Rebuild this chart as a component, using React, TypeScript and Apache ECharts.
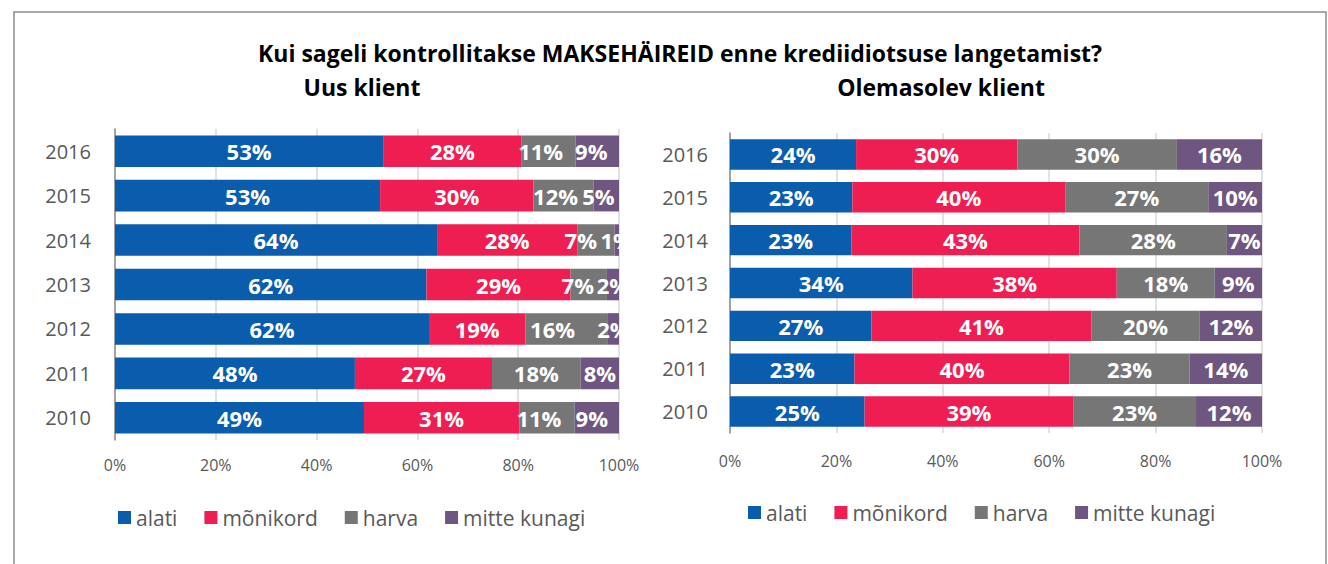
import React, { useEffect, useRef } from "react";
import * as echarts from "echarts";

const years = ["2010", "2011", "2012", "2013", "2014", "2015", "2016"];
const seriesNames = ["alati", "mõnikord", "harva", "mitte kunagi"];
const colors = ["#0A5CAD", "#EE1D52", "#767676", "#6F5680"];

// Uus klient (2010..2016)
const newAlati = [49.4, 47.6, 62.3, 61.8, 63.9, 52.6, 53.2];
const newMonikord = [30.8, 27.2, 19.1, 28.6, 27.8, 30.4, 27.5];
const newHarva = [11.0, 17.6, 16.4, 7.2, 7.4, 12.0, 10.7];
const newMitte = [8.8, 7.6, 2.2, 2.4, 0.9, 5.0, 8.6];

// Olemasolev klient (2010..2016)
const oldAlati = [25.3, 23.4, 26.6, 34.3, 22.8, 23.0, 23.7];
const oldMonikord = [39.2, 40.4, 41.3, 38.4, 42.9, 40.0, 30.3];
const oldHarva = [23.1, 22.6, 20.4, 18.4, 27.7, 26.9, 30.0];
const oldMitte = [12.4, 13.6, 11.7, 8.9, 6.6, 10.1, 16.0];

const xTicks = { min: 0, max: 100, interval: 20 };

const titleText = "Kui sageli kontrollitakse MAKSEHÄIREID enne krediidiotsuse langetamist?";
const leftSubtitle = "Uus klient";
const rightSubtitle = "Olemasolev klient";

// label horizontal nudges (px) for the narrow segments of the left chart, per year 2010..2016
const leftHarvaLabelShift = [-8, 0, -14, -11, -15, -8, -8];
const leftMitteLabelShift = [-5, 0, 0, 0, 0, -8, -6];

const FONT = "'Open Sans', 'Noto Sans', sans-serif";

export default function App() {
  const ref = useRef<HTMLDivElement>(null);
  useEffect(() => {
    if (!ref.current) return;
    const chart = echarts.init(ref.current, null, { renderer: "svg" });
    const leftData = [newAlati, newMonikord, newHarva, newMitte];
    const rightData = [oldAlati, oldMonikord, oldHarva, oldMitte];
    const leftShifts: (number[] | null)[] = [null, null, leftHarvaLabelShift, leftMitteLabelShift];
    const mkSeries = (data: number[][], idx: number, shifts: (number[] | null)[]) =>
      data.map((vals, i) => ({
        name: seriesNames[i],
        type: "bar",
        stack: "s" + idx,
        xAxisIndex: idx,
        yAxisIndex: idx,
        barWidth: "71%",
        itemStyle: { color: colors[i] },
        label: {
          show: true,
          position: "inside",
          color: "#ffffff",
          fontWeight: "bold",
          fontSize: 22,
          fontFamily: FONT,
          formatter: (p: any) => Math.round(p.value) + "%",
        },
        data: vals.map((v, j) => {
          const s = shifts[i];
          if (s && s[j]) return { value: v, label: { offset: [s[j], 0] } };
          return v;
        }),
      }));
    const xAxisBase = (gi: number, margin: number) => ({
      gridIndex: gi,
      type: "value",
      min: xTicks.min,
      max: xTicks.max,
      interval: xTicks.interval,
      axisLine: { show: false },
      axisTick: { show: false },
      splitLine: { show: true, lineStyle: { color: "#D9D9D9", width: 1.5 } },
      axisLabel: {
        formatter: "{value}%",
        color: "#595959",
        fontSize: 16,
        fontFamily: FONT,
        margin,
      },
    });
    const yAxisBase = (gi: number, margin: number) => ({
      gridIndex: gi,
      type: "category",
      data: years,
      axisLine: { show: true, lineStyle: { color: "#8C8C8C", width: 1.5 } },
      axisTick: { show: false },
      axisLabel: { color: "#595959", fontSize: 20, fontFamily: FONT, margin },
    });
    const legendBase = (left: number, top: number) => ({
      left,
      top,
      padding: 0,
      data: seriesNames,
      icon: "rect",
      itemWidth: 13,
      itemHeight: 13,
      itemGap: 27,
      textStyle: { color: "#595959", fontSize: 21, fontFamily: FONT },
    });
    chart.setOption({
      animation: false,
      backgroundColor: "#ffffff",
      grid: [
        { left: 115, width: 504, top: 129, height: 311 },
        { left: 730, width: 532, top: 133, height: 300 },
      ],
      xAxis: [xAxisBase(0, 17), xAxisBase(1, 20)],
      yAxis: [yAxisBase(0, 24), yAxisBase(1, 22)],
      legend: [legendBase(118, 507), legendBase(748, 502)],
      series: [...mkSeries(leftData, 0, leftShifts), ...mkSeries(rightData, 1, [null, null, null, null])],
      graphic: [
        {
          type: "rect",
          shape: { x: 14, y: 12, width: 1312, height: 600 },
          style: { fill: "none", stroke: "#8C8C8C", lineWidth: 1.5 },
          silent: true,
        },
        {
          type: "text",
          x: 680,
          y: 53,
          style: {
            text: titleText,
            fontSize: 23,
            fontWeight: "bold",
            fontFamily: FONT,
            fill: "#000000",
            align: "center",
            verticalAlign: "middle",
          },
        },
        {
          type: "text",
          x: 362,
          y: 87,
          style: {
            text: leftSubtitle,
            fontSize: 23,
            fontWeight: "bold",
            fontFamily: FONT,
            fill: "#000000",
            align: "center",
            verticalAlign: "middle",
          },
        },
        {
          type: "text",
          x: 941,
          y: 87,
          style: {
            text: rightSubtitle,
            fontSize: 23,
            fontWeight: "bold",
            fontFamily: FONT,
            fill: "#000000",
            align: "center",
            verticalAlign: "middle",
          },
        },
      ],
    });
    return () => chart.dispose();
  }, []);
  return (
    <div
      ref={ref}
      style={{ position: "fixed", left: 0, top: 0, width: 1328, height: 564 }}
    />
  );
}
